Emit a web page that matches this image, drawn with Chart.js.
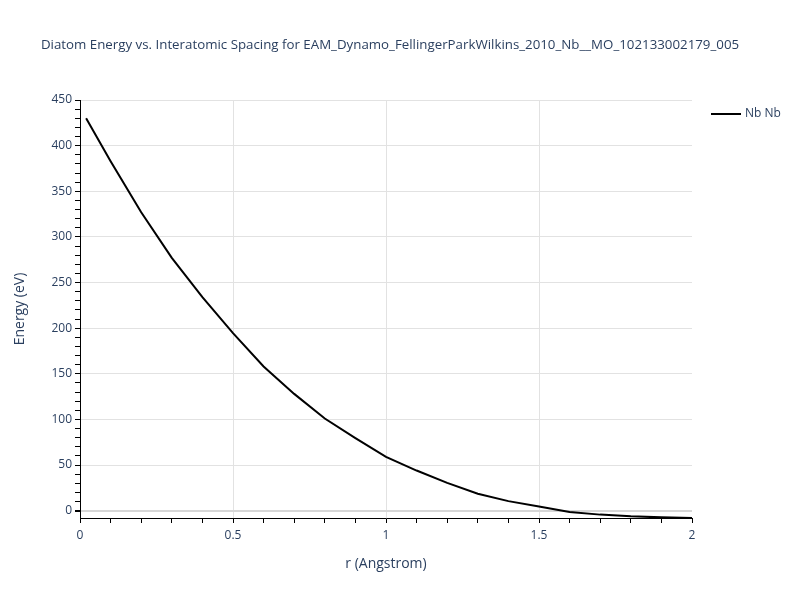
<!DOCTYPE html>
<html>
<head>
<meta charset="utf-8">
<script src="https://cdn.jsdelivr.net/npm/chart.js@4.4.1/dist/chart.umd.min.js"></script>
<style>
  body { margin: 0; background: #fff; }
  #wrap { width: 800px; height: 600px; }
</style>
</head>
<body>
<div id="wrap"><canvas id="grafico" width="800" height="600"></canvas></div>
<script>
// r in Angstrom, energy in eV
const distancias = [0.02, 0.1, 0.2, 0.3, 0.4, 0.5, 0.6, 0.7, 0.8, 0.9, 1.0, 1.1, 1.2, 1.3, 1.4, 1.5, 1.6, 1.7, 1.8, 1.9, 2.0];
const energias = [430, 383, 327, 277, 234, 194.5, 158, 128, 101, 79.5, 59, 44, 30.5, 18.5, 10.5, 4.7, -1.5, -4.3, -6.2, -7.3, -8];
const nombreSerie = 'Nb Nb';
const titulo = 'Diatom Energy vs. Interatomic Spacing for EAM_Dynamo_FellingerParkWilkins_2010_Nb__MO_102133002179_005';

const colorTexto = '#2a3f5f';
const fuente = '"Open Sans", verdana, arial, sans-serif';

const puntos = distancias.map((r, i) => ({ x: r, y: energias[i] }));

// title and legend drawn by hand so the plot area keeps plotly's margins
const textosPlugin = {
    id: 'textos',
    afterDraw(chart) {
        const ctx = chart.ctx;
        ctx.save();
        ctx.fillStyle = colorTexto;
        ctx.font = '13.3px ' + fuente;
        ctx.textAlign = 'center';
        ctx.textBaseline = 'middle';
        ctx.fillText(titulo, 390, 45);

        ctx.strokeStyle = '#000';
        ctx.lineWidth = 2;
        ctx.beginPath();
        ctx.moveTo(711, 114);
        ctx.lineTo(741, 114);
        ctx.stroke();
        ctx.font = '12px ' + fuente;
        ctx.textAlign = 'left';
        ctx.fillText(nombreSerie, 745, 114);
        ctx.restore();
    }
};

function ticksCada(desde, hasta, paso) {
    const t = [];
    const n = Math.round((hasta - desde) / paso);
    for (let i = 0; i <= n; i++) t.push({ value: Math.round((desde + i * paso) * 1000) / 1000 });
    return t;
}

const ctx = document.getElementById('grafico').getContext('2d');
new Chart(ctx, {
    type: 'line',
    data: {
        datasets: [{
            label: nombreSerie,
            data: puntos,
            borderColor: '#000',
            borderWidth: 2,
            pointRadius: 0,
            tension: 0,
            fill: false
        }]
    },
    options: {
        responsive: false,
        animation: false,
        layout: { padding: { left: 0, right: 108, top: 100, bottom: 0 } },
        plugins: {
            legend: { display: false },
            tooltip: { enabled: false },
            title: { display: false }
        },
        scales: {
            x: {
                type: 'linear',
                min: 0,
                max: 2,
                border: { display: true, color: '#000', width: 1 },
                grid: {
                    color: c => {
                        const k = Math.round(c.tick.value * 10);
                        return (k % 5 === 0 && k !== 0 && k !== 20) ? '#e2e2e2' : 'rgba(0,0,0,0)';
                    },
                    tickColor: '#000',
                    tickLength: 5
                },
                afterBuildTicks: s => { s.ticks = ticksCada(0, 2, 0.1); },
                ticks: {
                    autoSkip: false,
                    maxRotation: 0,
                    color: colorTexto,
                    font: { family: fuente, size: 12 },
                    padding: 5,
                    callback: v => {
                        const k = Math.round(v * 10);
                        return k % 5 === 0 ? String(k / 10) : '';
                    }
                },
                title: {
                    display: true,
                    text: 'r (Angstrom)',
                    color: colorTexto,
                    font: { family: fuente, size: 14 },
                    padding: { top: 0, bottom: 28 }
                },
                afterFit: s => { s.height = 82; }
            },
            y: {
                type: 'linear',
                min: -8,
                max: 450,
                border: { display: true, color: '#000', width: 1 },
                grid: {
                    color: c => {
                        const v = Math.round(c.tick.value);
                        if (v === 0) return '#d6d6d6';
                        return (v % 50 === 0 && v > 0) ? '#e2e2e2' : 'rgba(0,0,0,0)';
                    },
                    lineWidth: c => Math.round(c.tick.value) === 0 ? 2 : 1,
                    tickColor: '#000',
                    tickLength: 5
                },
                afterBuildTicks: s => { s.ticks = ticksCada(0, 450, 10); },
                ticks: {
                    autoSkip: false,
                    color: colorTexto,
                    font: { family: fuente, size: 12 },
                    padding: 3,
                    callback: v => {
                        const k = Math.round(v);
                        return k % 50 === 0 ? String(k) : '';
                    }
                },
                title: {
                    display: true,
                    text: 'Energy (eV)',
                    color: colorTexto,
                    font: { family: fuente, size: 14 },
                    padding: { top: 12, bottom: 0 }
                },
                afterFit: s => { s.width = 80; }
            }
        }
    },
    plugins: [textosPlugin]
});
</script>
</body>
</html>
